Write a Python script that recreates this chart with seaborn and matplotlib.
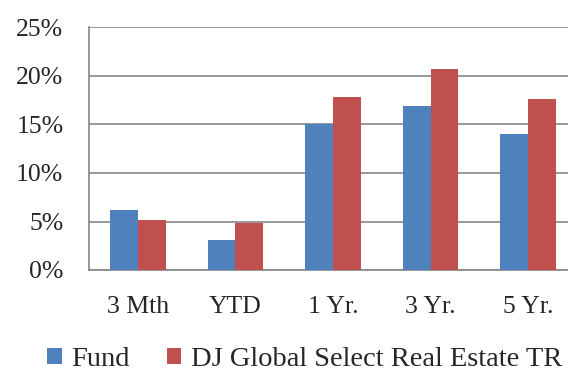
import pandas as pd
import matplotlib
matplotlib.use('Agg')
import matplotlib.pyplot as plt
import matplotlib.ticker as ticker
import seaborn as sns

# --- data ---
periods = ['3 Mth', 'YTD', '1 Yr.', '3 Yr.', '5 Yr.']
fund = [6.2, 3.1, 15.0, 16.9, 14.05]
dj_index = [5.15, 4.8, 17.8, 20.75, 17.6]
series_names = ['Fund', 'DJ Global Select Real Estate TR']

df = pd.DataFrame({
    'Period': periods * 2,
    'Return': fund + dj_index,
    'Series': [series_names[0]] * len(periods) + [series_names[1]] * len(periods),
})

sns.set_style('white')
plt.rcParams['font.family'] = ['Liberation Serif', 'DejaVu Serif']

grey = '#868686'
fig = plt.figure(figsize=(5.68, 3.71), dpi=100)
ax = fig.add_axes([89 / 568, 101 / 371, 488 / 568, 242.5 / 371])

sns.barplot(data=df, x='Period', y='Return', hue='Series',
            palette=['#4F81BD', '#C0504D'], width=0.57, gap=0,
            saturation=1, edgecolor='none', ax=ax, zorder=3)

ax.set_ylim(0, 25)
ax.set_xlim(-0.5, len(periods) - 0.5)
ax.yaxis.set_major_locator(ticker.MultipleLocator(5))
ax.yaxis.set_major_formatter(ticker.FuncFormatter(lambda v, pos: '{:.0f}%'.format(v)))
ax.grid(axis='y', color=grey, linewidth=1.2, zorder=0)
ax.set_axisbelow(True)

for side in ['top', 'right']:
    ax.spines[side].set_visible(False)
for side in ['left', 'bottom']:
    ax.spines[side].set_color(grey)
    ax.spines[side].set_linewidth(1.2)

# category boundary ticks like Excel
ax.set_xticks([i - 0.5 for i in range(len(periods) + 1)], minor=True)
ax.tick_params(axis='x', which='minor', length=5, width=1.2, color=grey, direction='out')
ax.tick_params(axis='x', which='major', length=0, pad=19, labelsize=18.5)
ax.tick_params(axis='y', length=5, width=1.2, color=grey, direction='out', pad=13.5, labelsize=18.5)
ax.set_xlabel('')
ax.set_ylabel('')

ax.legend_.remove()
handles, labels = ax.get_legend_handles_labels()
fig.legend(handles, labels, loc='center', bbox_to_anchor=(0.537, 0.03), ncol=2,
           frameon=False, fontsize=20.5, handlelength=0.5, handleheight=0.5,
           handletextpad=0.35, columnspacing=1.3, borderaxespad=0)

fig.savefig('out.png', dpi=100)
